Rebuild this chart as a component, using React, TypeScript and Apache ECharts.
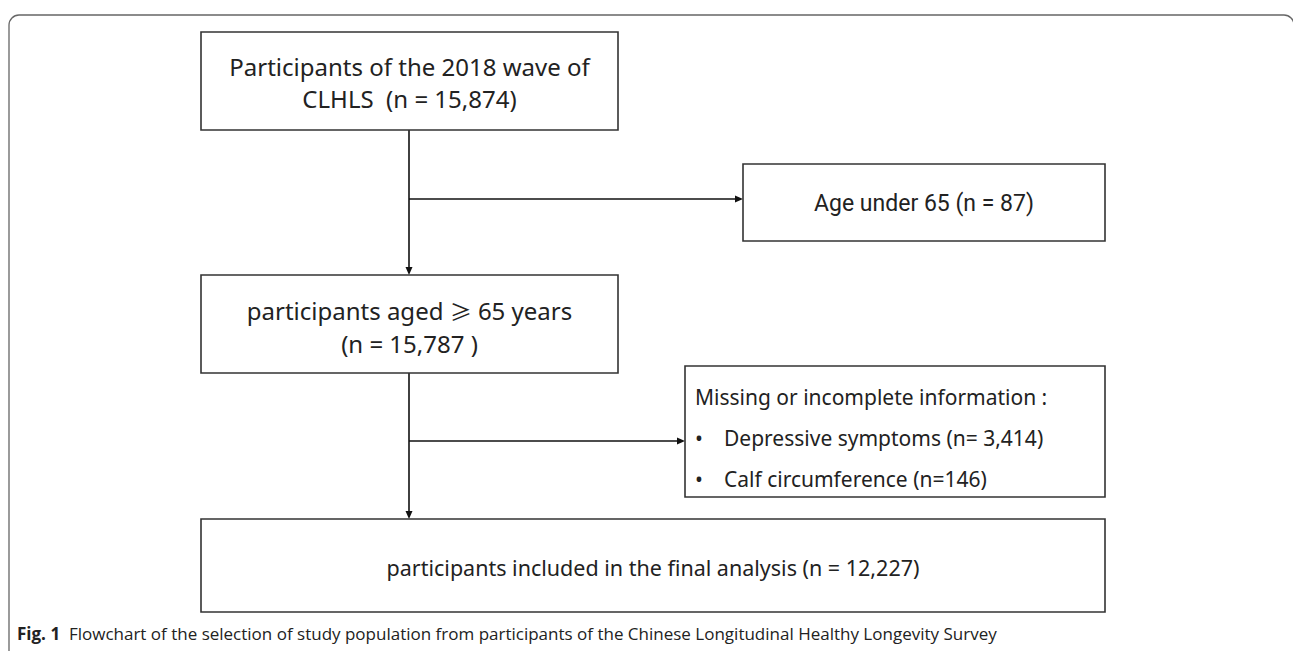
import React, { useEffect, useRef } from "react";
import * as echarts from "echarts";

// ---- Flowchart content (data) ----
const stageNames = [
  "Participants of the 2018 wave of",
  "participants aged",
  "participants included in the final analysis",
];
const stageCounts = ["15,874", "15,787", "12,227"];
const ageExclusion = ["Age under 65", "87"];
const missingHeader = "Missing or incomplete information :";
const missingItems = ["Depressive symptoms", "Calf circumference"];
const missingCounts = ["3,414", "146"];
const captionLabel = "Fig. 1";
const captionText =
  "Flowchart of the selection of study population from participants of the Chinese Longitudinal Healthy Longevity Survey";

// ---- Layout / styles ----
const W = 1293;
const H = 651;
const BOX_STROKE = "#333333";
const LINE = "#111111";
const TEXT = "#222222";
const BOX_FONT = "'Noto Sans', 'Open Sans', sans-serif";

const L = {
  box1: [201, 32, 618, 130],
  box2: [201, 275, 618, 373],
  ageBox: [743, 164, 1105, 241],
  missBox: [685, 366, 1105, 497],
  finalBox: [201, 519, 1105, 612],
  trunkX: 409,
  branch1Y: 199,
  branch2Y: 441,
};

function box(b: number[]) {
  return {
    type: "rect",
    shape: { x: b[0], y: b[1], width: b[2] - b[0], height: b[3] - b[1] },
    style: { fill: "#ffffff", stroke: BOX_STROKE, lineWidth: 1.6 },
  };
}

function txt(x: number, y: number, text: string, size: number, align = "center", family = BOX_FONT, extra: any = {}) {
  return {
    type: "text",
    x,
    y,
    style: {
      text,
      fontSize: size,
      fontFamily: family,
      fill: TEXT,
      align,
      verticalAlign: "middle",
      ...extra,
    },
  };
}

function vArrow(x: number, y0: number, y1: number) {
  return [
    { type: "line", shape: { x1: x, y1: y0, x2: x, y2: y1 - 6 }, style: { stroke: LINE, lineWidth: 1.6 } },
    { type: "polygon", shape: { points: [[x - 3.5, y1 - 8], [x + 3.5, y1 - 8], [x, y1]] }, style: { fill: LINE } },
  ];
}

function hArrow(y: number, x0: number, x1: number) {
  return [
    { type: "line", shape: { x1: x0, y1: y, x2: x1 - 6, y2: y }, style: { stroke: LINE, lineWidth: 1.6 } },
    { type: "polygon", shape: { points: [[x1 - 8, y - 3.5], [x1 - 8, y + 3.5], [x1, y]] }, style: { fill: LINE } },
  ];
}

function buildElements() {
  const els: any[] = [];
  // outer rounded frame
  els.push({
    type: "rect",
    shape: { x: 9, y: 15, width: 1285, height: 700, r: 10 },
    style: { fill: "none", stroke: "#666666", lineWidth: 1.3 },
  });
  // connectors
  els.push(...vArrow(L.trunkX, L.box1[3], L.box2[1]));
  els.push(...hArrow(L.branch1Y, L.trunkX, L.ageBox[0]));
  els.push(...vArrow(L.trunkX, L.box2[3], L.finalBox[1]));
  els.push(...hArrow(L.branch2Y, L.trunkX, L.missBox[0]));
  // boxes
  els.push(box(L.box1), box(L.box2), box(L.ageBox), box(L.missBox), box(L.finalBox));

  const c1 = (L.box1[0] + L.box1[2]) / 2;
  els.push(txt(c1, 66, stageNames[0], 24));
  els.push(txt(c1, 98, `CLHLS  (n = ${stageCounts[0]})`, 24));

  els.push(
    txt(c1, 310, `${stageNames[1]} {g|≥} 65 years`, 24, "center", BOX_FONT, {
      lineHeight: 26,
      rich: { g: { fontFamily: "'Noto Sans CJK SC', sans-serif", fontSize: 22, lineHeight: 26, fill: TEXT } },
    })
  );
  els.push(txt(c1, 343, `(n = ${stageCounts[1]} )`, 24, "center", BOX_FONT, { lineHeight: 26 }));

  const ca = (L.ageBox[0] + L.ageBox[2]) / 2;
  els.push(txt(ca, 203, `${ageExclusion[0]} (n = ${ageExclusion[1]})`, 23, "center", "Roboto, sans-serif"));

  els.push(txt(695, 397, missingHeader, 21, "left"));
  els.push(txt(699, 438, "•", 21, "center"));
  els.push(txt(724, 438, `${missingItems[0]} (n= ${missingCounts[0]})`, 21, "left"));
  els.push(txt(699, 479, "•", 21, "center"));
  els.push(txt(724, 479, `${missingItems[1]} (n=${missingCounts[1]})`, 21, "left"));

  const cf = (L.finalBox[0] + L.finalBox[2]) / 2;
  els.push(txt(cf, 567, `${stageNames[2]} (n = ${stageCounts[2]})`, 21.5));

  els.push(
    txt(17, 633, `{b|${captionLabel}}  ${captionText}`, 17, "left", "'Open Sans', sans-serif", {
      rich: { b: { fontFamily: "'Open Sans', sans-serif", fontWeight: "bold", fontSize: 17, fill: TEXT } },
    })
  );
  return els;
}

export default function App() {
  const ref = useRef<HTMLDivElement>(null);
  useEffect(() => {
    document.body.style.margin = "0";
    const chart = echarts.init(ref.current as HTMLDivElement, null, { renderer: "svg" });
    chart.setOption({
      animation: false,
      backgroundColor: "#ffffff",
      graphic: { elements: buildElements() },
    });
    return () => chart.dispose();
  }, []);
  return <div ref={ref} style={{ width: W, height: H }} />;
}
